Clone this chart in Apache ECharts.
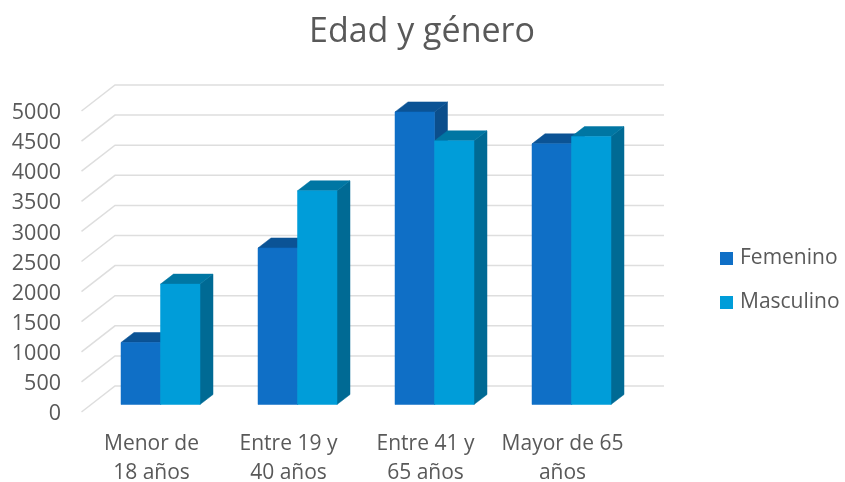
<!DOCTYPE html>
<html><head><meta charset="utf-8">
<style>html,body{margin:0;padding:0;background:#fff}#c{width:845px;height:482px}</style>
<script src="https://cdn.jsdelivr.net/npm/echarts@6/dist/echarts.min.js"></script>
</head><body><div id="c"></div>
<script>
const categories = ['Menor de\n18 años', 'Entre 19 y\n40 años', 'Entre 41 y\n65 años', 'Mayor de 65\naños'];
const femenino = [1030, 2600, 4860, 4330];
const masculino = [2000, 3550, 4380, 4450];
const ticks = [0, 500, 1000, 1500, 2000, 2500, 3000, 3500, 4000, 4500, 5000];

const FONT = '"Open Sans"';
const TEXT = '#595959';
const WALL_DX = 33, WALL_DY = -26;
const BAR_W = 39.5, BAR_SHIFT_X = 9, BAR_SHIFT_Y = -7.5, BAR_DX = 13, BAR_DY = -10;

function barRenderer(side, colors) {
  return function (params, api) {
    const p = api.coord([api.value(0), api.value(1)]);
    const b = api.coord([api.value(0), 0]);
    const xc = p[0] + BAR_SHIFT_X;
    const x0 = side < 0 ? xc - BAR_W : xc;
    const x1 = x0 + BAR_W;
    const yt = p[1] + BAR_SHIFT_Y, yb = b[1] + BAR_SHIFT_Y;
    const poly = (pts, fill) => ({ type: 'polygon', shape: { points: pts }, style: { fill: fill, stroke: fill, lineWidth: 0.5 } });
    return { type: 'group', children: [
      poly([[x1, yt], [x1 + BAR_DX, yt + BAR_DY], [x1 + BAR_DX, yb + BAR_DY], [x1, yb]], colors.side),
      poly([[x0, yt], [x0 + BAR_DX, yt + BAR_DY], [x1 + BAR_DX, yt + BAR_DY], [x1, yt]], colors.top),
      poly([[x0, yt], [x1, yt], [x1, yb], [x0, yb]], colors.front)
    ]};
  };
}

function wallRenderer(params, api) {
  const cs = params.coordSys;
  const y = api.coord([0, api.value(0)])[1];
  return { type: 'polyline', shape: { points: [
    [cs.x - 1.5, y], [cs.x + WALL_DX - 1, y + WALL_DY], [cs.x + cs.width + WALL_DX, y + WALL_DY]
  ]}, style: { fill: null, stroke: '#DEDEDE', lineWidth: 1.5 } };
}

const chart = echarts.init(document.getElementById('c'), null, { renderer: 'canvas' });
chart.setOption({
  animation: false,
  backgroundColor: '#fff',
  title: { text: 'Edad y género', left: 417, top: 10, textAlign: 'center',
    textStyle: { fontFamily: FONT, fontSize: 34, fontWeight: 'normal', color: TEXT } },
  legend: { orient: 'vertical', left: 715, top: 243, itemWidth: 13, itemHeight: 13, itemGap: 23,
    icon: 'rect', selectedMode: false, data: ['Femenino', 'Masculino'],
    textStyle: { fontFamily: FONT, fontSize: 21, color: TEXT, padding: [0, 0, 0, 2] } },
  grid: { left: 83, top: 111, width: 548, height: 301, outerBoundsMode: 'none' },
  xAxis: { type: 'category', data: categories, axisLine: { show: false }, axisTick: { show: false },
    axisLabel: { fontFamily: FONT, fontSize: 21, color: TEXT, lineHeight: 29, margin: 18, interval: 0 } },
  yAxis: { type: 'value', min: 0, max: 5000, interval: 500, axisLine: { show: false }, axisTick: { show: false },
    splitLine: { show: false },
    axisLabel: { fontFamily: FONT, fontSize: 21.5, color: TEXT, margin: 22, verticalAlign: 'top', lineHeight: 4, formatter: v => String(v) } },
  series: [
    { name: 'wall', type: 'custom', renderItem: wallRenderer, data: ticks.map(t => [t]), encode: { y: 0 }, clip: false, silent: true, z: 1 },
    { name: 'Femenino', type: 'custom', itemStyle: { color: '#0F6FC6' }, clip: false, z: 2,
      renderItem: barRenderer(-1, { front: '#0F6FC6', top: '#0B5395', side: '#0B4E8C' }),
      encode: { x: 0, y: 1 }, data: femenino.map((v, i) => [i, v]) },
    { name: 'Masculino', type: 'custom', itemStyle: { color: '#009DD9' }, clip: false, z: 3,
      renderItem: barRenderer(1, { front: '#009DD9', top: '#0076A3', side: '#006A94' }),
      encode: { x: 0, y: 1 }, data: masculino.map((v, i) => [i, v]) }
  ]
});
</script></body></html>
